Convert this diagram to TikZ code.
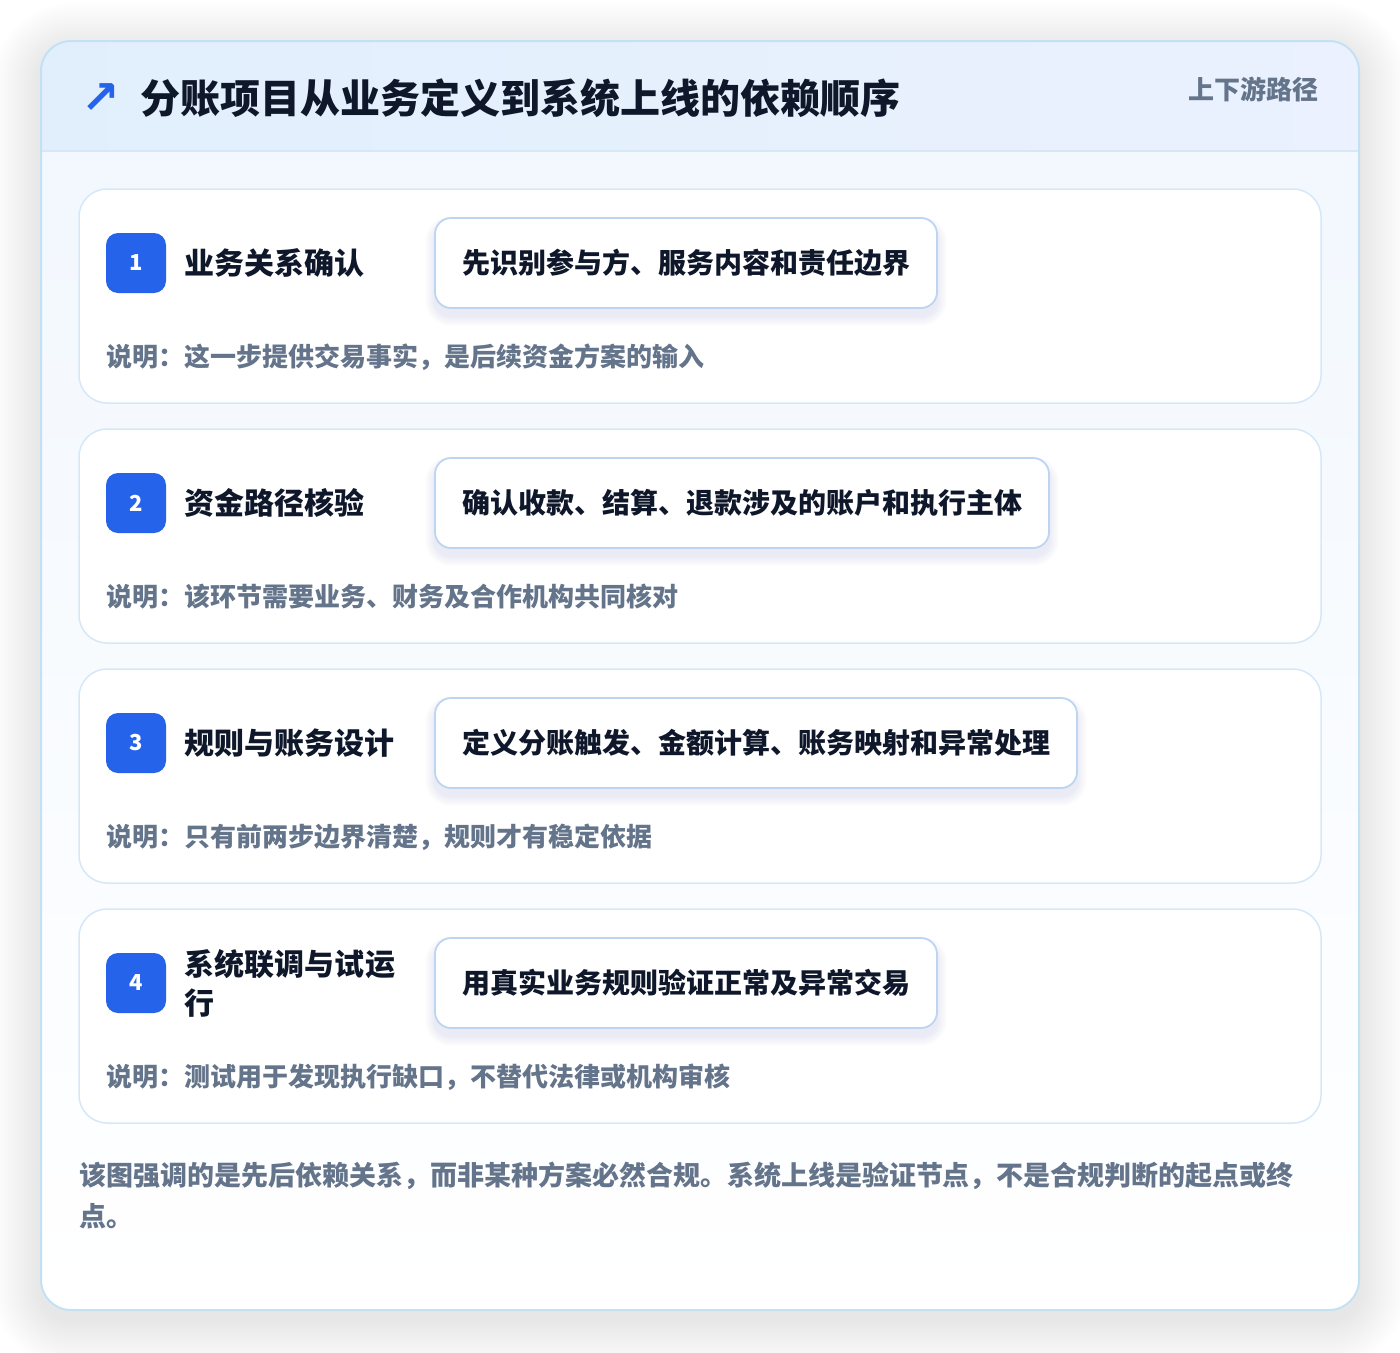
\documentclass[tikz,border=0pt]{standalone}
\usepackage{fontspec}
\setmainfont{Noto Sans CJK SC}
\newfontfamily\symfont{DejaVu Sans}
\XeTeXlinebreaklocale "zh"
\XeTeXlinebreakskip=0pt plus 1pt
\usetikzlibrary{positioning}

\definecolor{badgeblue}{HTML}{2563EB}
\definecolor{inkdark}{HTML}{0F172A}
\definecolor{inkgray}{HTML}{64748B}
\definecolor{frameline}{HTML}{C3E1F5}
\definecolor{cardline}{HTML}{D6E8F8}
\definecolor{pillline}{HTML}{BBD5F2}
\definecolor{pillshade}{HTML}{5B7DB0}
\definecolor{headleft}{HTML}{E1EFFC}
\definecolor{headright}{HTML}{EBF1FE}
\definecolor{bodytop}{HTML}{F1F7FE}

\pgfdeclarelayer{back}
\pgfdeclarelayer{glow}
\pgfsetlayers{back,glow,main}

\begin{document}
\begin{tikzpicture}[x=1pt, y=-1pt,
    every node/.style={inner sep=0pt, outer sep=0pt},
    frame/.style={rounded corners=30pt, minimum width=1318pt, minimum height=1269pt,
        top color=bodytop, bottom color=white},
    stepcard/.style={draw=cardline, line width=1.5pt, fill=white, rounded corners=28pt,
        minimum width=1242pt, minimum height=214pt},
    badge/.style={fill=badgeblue, rounded corners=12pt, minimum size=60pt, text=white,
        font=\fontsize{22pt}{26pt}\selectfont\bfseries},
    steptitle/.style={text width=222pt, align=left, text=inkdark,
        font=\fontsize{30pt}{39pt}\selectfont\bfseries},
    pill/.style={draw=pillline, line width=1.8pt, fill=white, rounded corners=16pt,
        minimum height=90pt, inner xsep=27pt, text=inkdark,
        font=\fontsize{28pt}{34pt}\selectfont\bfseries},
    note/.style={text=inkgray, font=\fontsize{26pt}{30pt}\selectfont\bfseries},
]
    \useasboundingbox (0,0) rectangle (1400,1352);

    % outer card, soft shadow and header band
    \coordinate (fnw) at (41,41);
    \coordinate (fse) at (1359,1310);
    \begin{pgfonlayer}{back}
        \foreach \k in {2,4,...,48}
            \fill[black, opacity=0.005, rounded corners=30+\k]
                ([shift={(-\k,10-\k)}]fnw) rectangle ([shift={(\k,10+\k)}]fse);
        \node (frame) [frame, anchor=north west] at (fnw) {};
        \begin{scope}
            \clip[rounded corners=30pt] (frame.north west) rectangle (frame.south east);
            \shade[left color=headleft, right color=headright] (frame.north west) rectangle ([yshift=-110pt]frame.north east);
            \draw[cardline, line width=1.5pt] ([yshift=-110pt]frame.north west) -- ([yshift=-110pt]frame.north east);
        \end{scope}
        \draw[frameline, line width=2pt, rounded corners=30pt] (frame.north west) rectangle (frame.south east);
    \end{pgfonlayer}

    \node (title) [anchor=west, text=inkdark, font=\fontsize{40pt}{46pt}\selectfont\bfseries] at (140,98) {分账项目从业务定义到系统上线的依赖顺序};
    \node (icon)  [left=20pt of title, yshift=-1pt, text=badgeblue, font=\symfont\bfseries\fontsize{46pt}{50pt}\selectfont] {↗};
    \node (tag)   [anchor=east, text=inkgray, font=\fontsize{26pt}{30pt}\selectfont\bfseries] at (1318,89) {上下游路径};

    % steps
    \foreach \n/\name/\act/\desc [count=\i from 0, evaluate=\i as \y using 189+240*\i] in {
        1/业务关系确认/先识别参与方、服务内容和责任边界/说明：这一步提供交易事实，是后续资金方案的输入,
        2/资金路径核验/确认收款、结算、退款涉及的账户和执行主体/说明：该环节需要业务、财务及合作机构共同核对,
        3/规则与账务设计/定义分账触发、金额计算、账务映射和异常处理/说明：只有前两步边界清楚，规则才有稳定依据,
        4/系统联调与试运行/用真实业务规则验证正常及异常交易/说明：测试用于发现执行缺口，不替代法律或机构审核}
    {
        \begin{pgfonlayer}{back}
            \node (card\n) [stepcard, anchor=north west] at (79,\y) {};
        \end{pgfonlayer}
        \node (badge\n) [badge, below right=44pt and 27pt of card\n.north west] {\n};
        \node (name\n)  [steptitle, right=18pt of badge\n] {\name};
        \node (act\n)   [pill, right=269pt of badge\n] {\act};
        \node (desc\n)  [note, anchor=west] at ([shift={(27,168)}]card\n.north west) {\desc};
        \begin{pgfonlayer}{glow}
            \foreach \k in {1,...,10}
                \fill[pillshade, opacity=0.012, rounded corners=16+\k]
                    ([shift={(-\k,8-\k)}]act\n.north west) rectangle ([shift={(\k,8+\k)}]act\n.south east);
        \end{pgfonlayer}
    }

    \node (summary) [anchor=west, text width=1250pt, align=left, text=inkgray,
        font=\fontsize{27pt}{41pt}\selectfont\bfseries] at (79,1195.5)
        {该图强调的是先后依赖关系，而非某种方案必然合规。系统上线是验证节点，不是合规判断的起点或终\\点。};
\end{tikzpicture}
\end{document}
